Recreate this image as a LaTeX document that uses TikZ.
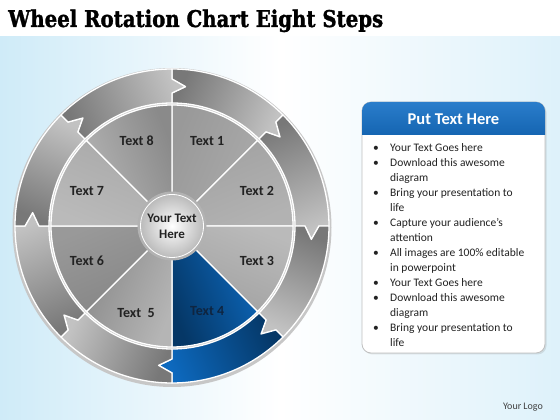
\documentclass[tikz,border=0pt]{standalone}
\usepackage{fontspec}
\setmainfont{Carlito}
\newfontfamily\titlefont{DejaVu Serif}[BoldFeatures={FakeBold=1.5}]
\usepackage{graphicx}
\usetikzlibrary{shadows}

\definecolor{bgblue}{HTML}{CFEBF8}
\definecolor{stepblue}{HTML}{0D69BE}
\definecolor{stepnavy}{HTML}{053766}
\definecolor{hdrtop}{HTML}{2A7DCB}
\definecolor{hdrbot}{HTML}{0B5AA6}
\definecolor{textgray}{HTML}{222222}
\definecolor{navytext}{HTML}{0F2540}

\begin{document}
\begin{tikzpicture}[x=1pt,y=1pt,
    ringseg/.style={draw=white, line width=1.3pt, line join=round},
    wedge/.style={draw=white, line width=1.3pt, line join=round},
    steplabel/.style={font=\fontsize{14}{16}\selectfont\bfseries, text=textgray},
    hub/.style={circle, minimum size=66pt, inner sep=0pt, draw=black!30, line width=3pt,
                inner color=white, outer color=black!28, align=center,
                font=\fontsize{13}{16}\selectfont\bfseries, text=textgray},
    panel/.style={draw=black!25, line width=0.8pt, fill=white, rounded corners=9pt},
  ]
\useasboundingbox (0,0) rectangle (560,420);

% Background
\fill[white] (0,0) rectangle (560,420);
\shade[left color=bgblue, right color=bgblue!70, middle color=white] (0,0) rectangle (560,383);

% Title
\node[anchor=base west, inner sep=0pt] (title) at (8,393)
  {\resizebox{375pt}{17.5pt}{\titlefont\bfseries Wheel Rotation Chart Eight Steps}};

% Wheel
\begin{scope}[shift={(172,194)}]
\fill[black!22] (0,-1.5) circle (159.5);

% Outer ring, eight arrows turning clockwise
\foreach \sa/\ca/\cb [evaluate=\sa as \ea using \sa-45, evaluate=\sa as \ma using \sa-22.5] in
  {90/black!53/black!24, 45/black!53/black!24, 0/black!53/black!24, -45/stepnavy/stepblue,
   -90/black!53/black!24, -135/black!53/black!24, 180/black!53/black!24, 135/black!53/black!24}
  \draw[ringseg, top color=\ca, bottom color=\cb, shading angle=\ma]
    (\sa:157) arc[start angle=\sa, end angle=\ea, radius=157]
    -- (\ea:147) -- ({\ea-5.5}:140) -- (\ea:133) -- (\ea:123)
    arc[start angle=\ea, end angle=\sa, radius=123]
    -- (\sa:133) -- ({\sa-5.5}:140) -- (\sa:147) -- cycle;

% Inner wedges
\foreach \sa/\ca/\cb [evaluate=\sa as \ea using \sa-45, evaluate=\sa as \ma using \sa-22.5] in
  {90/black!40/black!33, 45/black!37/black!30, 0/black!27/black!37, -45/stepblue/stepnavy,
   -90/black!29/black!46, -135/black!48/black!40, 180/black!27/black!34, 135/black!29/black!46}
  \draw[wedge, top color=\ca, bottom color=\cb, shading angle=\ma]
    (0,0) -- (\sa:121) arc[start angle=\sa, end angle=\ea, radius=121] -- cycle;

% Labels
\node[steplabel] (t1) at (67.5:92) {Text 1};
\node[steplabel] (t2) at (22.5:92) {Text 2};
\node[steplabel] (t3) at (-22.5:92) {Text 3};
\node[steplabel, text=navytext] (t4) at (-67.5:92) {Text 4};
\node[steplabel] (t5) at (-112.5:94) {Text\ \ 5};
\node[steplabel] (t6) at (-157.5:92) {Text 6};
\node[steplabel] (t7) at (157.5:92) {Text 7};
\node[steplabel] (t8) at (112.5:92) {Text 8};

% Hub
\node[hub] (hub) at (0,0) {Your Text\\Here};
\draw[white, line width=0.8pt] (hub.center) circle (31.5);
\end{scope}

% Text panel
\draw[panel, drop shadow={opacity=0.2, shadow xshift=1.5pt, shadow yshift=-1.5pt}]
  (362,67) rectangle (545,318);
\begin{scope}
  \clip (360,285) rectangle (547,320);
  \shade[top color=hdrtop, bottom color=hdrbot, rounded corners=9pt] (362,270) rectangle (545,318);
\end{scope}
\node[font=\fontsize{16.5}{18}\selectfont\bfseries, text=white] (hdr) at (453.5,301) {Put Text Here};

\node[anchor=north west, inner sep=0pt, font=\fontsize{11.5}{15}\selectfont, text=textgray] (list) at (373,279.5)
{\begin{tabular}{@{}p{12pt}@{\hspace{5pt}}l@{}}
\textbullet & Your Text Goes here\\
\textbullet & Download this awesome\\
            & diagram\\
\textbullet & Bring your presentation to\\
            & life\\
\textbullet & Capture your audience’s\\
            & attention\\
\textbullet & All images are 100\% editable\\
            & in powerpoint\\
\textbullet & Your Text Goes here\\
\textbullet & Download this awesome\\
            & diagram\\
\textbullet & Bring your presentation to\\
            & life
\end{tabular}};

% Logo
\node[font=\fontsize{10}{12}\selectfont, text=black!75] (logo) at (523,13) {Your Logo};

\end{tikzpicture}
\end{document}
